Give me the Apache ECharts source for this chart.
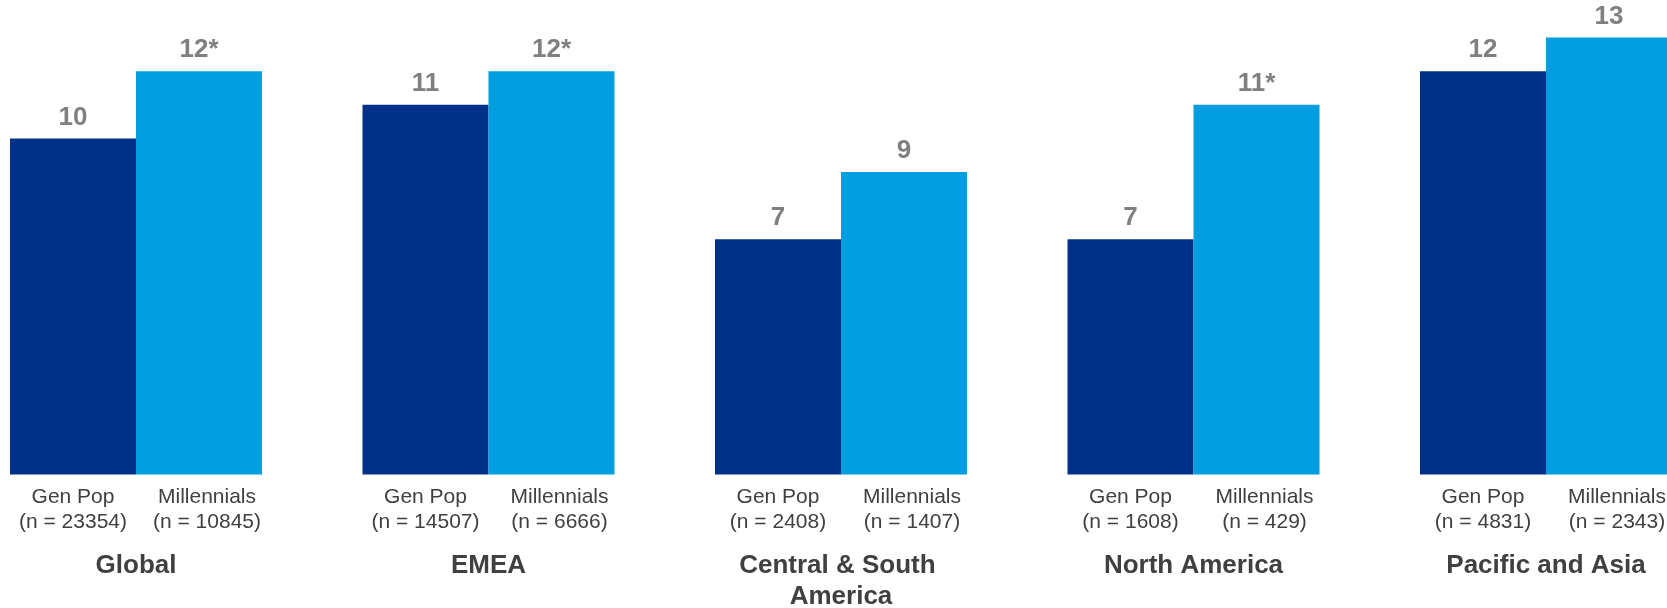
<!DOCTYPE html>
<html>
<head>
<meta charset="utf-8">
<title>Gen Pop vs Millennials by region</title>
<script src="https://cdn.jsdelivr.net/npm/echarts@6/dist/echarts.min.js"></script>
<style>
  html, body { margin: 0; padding: 0; background: #ffffff; }
  #chart { width: 1667px; height: 608px; }
</style>
</head>
<body>
<div id="chart"></div>
<script>
// Regions shown along the bottom
const regions = ['Global', 'EMEA', 'Central & South America', 'North America', 'Pacific and Asia'];

// Scores per region
const genPop = [10, 11, 7, 7, 12];
const millennials = [12, 12, 9, 11, 13];

// Millennial scores flagged with an asterisk
const millennialsFlag = [true, true, false, true, false];

// Sample sizes per group
const genPopN = [23354, 14507, 2408, 1608, 4831];
const millennialsN = [10845, 6666, 1407, 429, 2343];

const FONT = "'Liberation Sans', Arial, Helvetica, sans-serif";
const NAVY = '#003087';
const SKY = '#009DDF';
const VALUE_GREY = '#808080';
const TEXT_DARK = '#404040';

const valueLabel = {
  show: true,
  position: 'top',
  distance: 8,
  color: VALUE_GREY,
  fontFamily: FONT,
  fontWeight: 'bold',
  fontSize: 26
};

const chart = echarts.init(document.getElementById('chart'), null, { renderer: 'canvas' });

chart.setOption({
  backgroundColor: '#ffffff',
  animation: false,
  grid: {
    left: -40.25,
    right: -55.25,
    top: 4,
    bottom: 133.5,
    containLabel: false,
    outerBoundsMode: 'none'
  },
  xAxis: [
    {
      // Region names
      type: 'category',
      data: regions,
      position: 'bottom',
      axisLine: { show: false },
      axisTick: { show: false },
      axisLabel: {
        interval: 0,
        hideOverlap: false,
        margin: 76,
        fontFamily: FONT,
        fontWeight: 'bold',
        fontSize: 26,
        lineHeight: 31,
        color: TEXT_DARK,
        width: 215,
        overflow: 'break',
        align: 'center'
      }
    },
    {
      // Group names and sample sizes under each pair of bars
      type: 'category',
      data: regions,
      position: 'bottom',
      axisLine: { show: false },
      axisTick: { show: false },
      axisLabel: {
        interval: 0,
        hideOverlap: false,
        margin: 10,
        padding: [0, 0, 0, 16],
        formatter: function (value, index) {
          return '{g|Gen Pop}{m|Millennials}\n' +
                 '{g|(n = ' + genPopN[index] + ')}{m|(n = ' + millennialsN[index] + ')}';
        },
        rich: {
          g: {
            width: 126, align: 'center', fontFamily: FONT, fontSize: 21,
            lineHeight: 25, color: TEXT_DARK
          },
          m: {
            width: 142, align: 'center', fontFamily: FONT, fontSize: 21,
            lineHeight: 25, color: TEXT_DARK
          }
        }
      }
    }
  ],
  yAxis: {
    type: 'value',
    min: 0,
    max: 14,
    show: false,
    splitLine: { show: false }
  },
  series: [
    {
      name: 'Gen Pop',
      type: 'bar',
      xAxisIndex: 0,
      data: genPop,
      barWidth: 126,
      barGap: '0%',
      itemStyle: { color: NAVY },
      label: Object.assign({}, valueLabel, {
        formatter: function (p) { return String(p.value); }
      })
    },
    {
      name: 'Millennials',
      type: 'bar',
      xAxisIndex: 0,
      data: millennials,
      barWidth: 126,
      barGap: '0%',
      itemStyle: { color: SKY },
      label: Object.assign({}, valueLabel, {
        formatter: function (p) {
          return p.value + (millennialsFlag[p.dataIndex] ? '*' : '');
        }
      })
    }
  ]
});
</script>
</body>
</html>
